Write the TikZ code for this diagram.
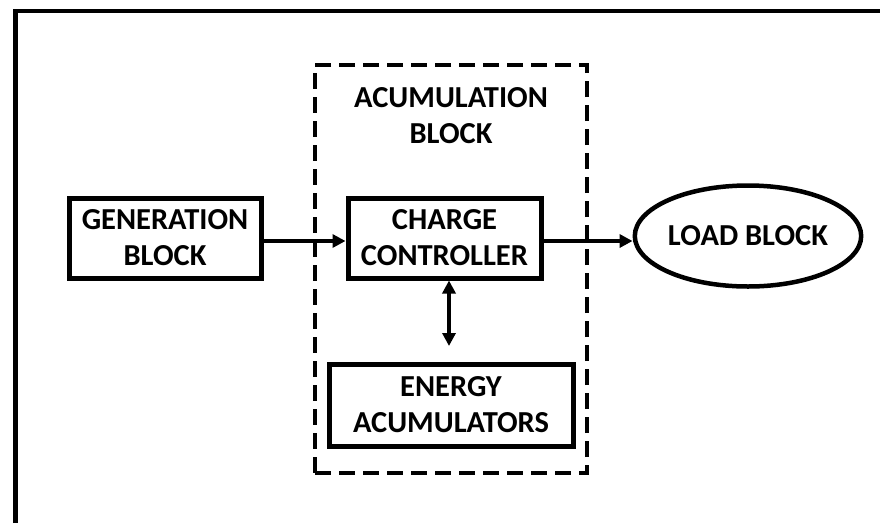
\documentclass[tikz,border=0pt]{standalone}
\usepackage{fontspec}
\setmainfont{Carlito}
\usetikzlibrary{arrows.meta,shapes.geometric}

\tikzset{
  blocktext/.style={font=\fontsize{30.5}{36}\selectfont\bfseries, align=center, inner sep=0pt},
  blockbox/.style={blocktext, draw, line width=5pt, rectangle},
  groupbox/.style={draw, line width=4.5pt, dash pattern=on 16pt off 8pt, rectangle, inner sep=0pt},
  flow/.style={line width=4pt, -{Triangle[length=13pt,width=13pt]}},
  flowboth/.style={line width=4pt, {Triangle[length=13pt,width=13pt]}-{Triangle[length=13pt,width=13pt]}},
}

\begin{document}
\begin{tikzpicture}[x=1pt, y=-1pt]
  \useasboundingbox (0,0) rectangle (880,523);

  % outer frame: only the top and left edges are drawn
  \coordinate (frameBL) at (15.5,523);
  \coordinate (frameTL) at (15.5,11);
  \coordinate (frameTR) at (880,11);
  \draw[line width=4.5pt, line join=miter] (frameBL) -- (frameTL) -- (frameTR);

  % accumulation group
  \node[groupbox, minimum width=272pt, minimum height=408pt] (acc) at (451,269) {};
  \node[blocktext] (acctitle) at (451,116) {ACUMULATION\\BLOCK};

  % blocks
  \node[blockbox, minimum width=192pt, minimum height=80pt] (gen) at (165,238) {GENERATION\\BLOCK};
  \node[blockbox, minimum width=193pt, minimum height=80pt] (ctrl) at (444.5,238) {CHARGE\\CONTROLLER};
  \node[blockbox, minimum width=244pt, minimum height=82pt] (accu) at (451,405) {ENERGY\\ACUMULATORS};
  \node[blocktext, draw, line width=4.5pt, ellipse, minimum width=226pt, minimum height=101pt] (load) at (748,236) {LOAD BLOCK};

  % connectors
  \coordinate (genout) at ([yshift=-3pt]gen.east);
  \coordinate (ctrlin) at ([yshift=-3pt]ctrl.west);
  \coordinate (ctrlout) at ([yshift=-3pt]ctrl.east);
  \draw[flow] (genout) -- (ctrlin);
  \draw[flow] (ctrlout) -- (ctrlout -| load.west);
  \coordinate (linkend) at (449,346);
  \draw[flowboth] (linkend |- ctrl.south) -- (linkend);
\end{tikzpicture}
\end{document}
